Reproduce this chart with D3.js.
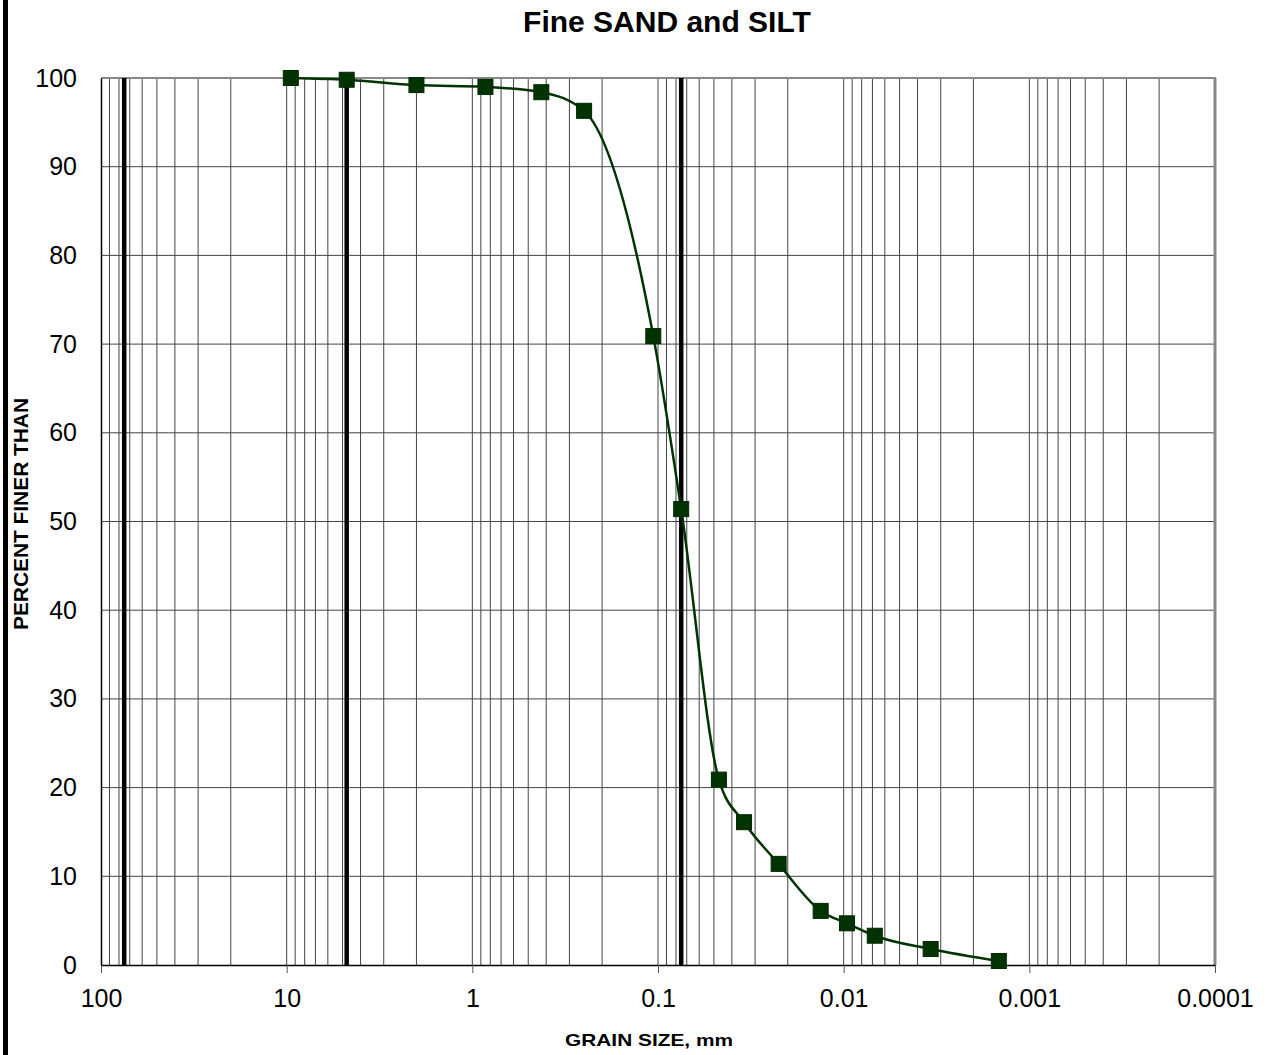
<!DOCTYPE html>
<html>
<head>
<meta charset="utf-8">
<script src="https://cdn.jsdelivr.net/npm/d3@7"></script>
<style>
  body { margin: 0; background: #fff; }
  svg { display: block; font-family: Arial, "Liberation Sans", sans-serif; }
</style>
</head>
<body>
<svg width="1268" height="1055"></svg>
<script>
// grain size (mm) and percent finer
var grainSize = [9.5, 4.75, 2.0, 0.85, 0.425, 0.25, 0.106, 0.075, 0.047, 0.0344, 0.0224, 0.0133, 0.0096, 0.0068, 0.0034, 0.00146];
var percentFiner = [100, 99.8, 99.2, 99.0, 98.4, 96.3, 70.9, 51.4, 20.9, 16.1, 11.4, 6.1, 4.7, 3.3, 1.8, 0.45];
var sieveLines = [75, 4.75, 0.075];
var xTicks = [100, 10, 1, 0.1, 0.01, 0.001, 0.0001];
var yTicks = [0, 10, 20, 30, 40, 50, 60, 70, 80, 90, 100];

var svg = d3.select("svg"),
    plotL = 101, plotR = 1215, plotT = 78, plotB = 965;

var x = d3.scaleLog().domain([100, 0.0001]).range([plotL, plotR]);
var y = d3.scaleLinear().domain([0, 100]).range([plotB, plotT]);

var data = grainSize.map(function(d, i) { return {size: d, pct: percentFiner[i]}; });

// outer frame bar on the left
svg.append("rect").attr("x", 3).attr("y", 0).attr("width", 5).attr("height", 1055).attr("fill", "#000");

// minor + decade vertical grid
var vgrid = [];
for (var e = -4; e < 2; e++) {
  for (var m = 1; m < 10; m++) vgrid.push(m * Math.pow(10, e));
}
svg.append("g").selectAll("line")
  .data(vgrid)
  .enter().append("line")
    .attr("x1", function(d) { return x(d); })
    .attr("x2", function(d) { return x(d); })
    .attr("y1", plotT).attr("y2", plotB)
    .attr("stroke", "#444").attr("stroke-width", 1);

// horizontal grid
svg.append("g").selectAll("line")
  .data(yTicks.slice(1, -1))
  .enter().append("line")
    .attr("x1", plotL).attr("x2", plotR)
    .attr("y1", function(d) { return y(d); })
    .attr("y2", function(d) { return y(d); })
    .attr("stroke", "#444").attr("stroke-width", 1);

// top and right border
svg.append("line").attr("x1", plotL).attr("x2", plotR + 1).attr("y1", plotT).attr("y2", plotT)
  .attr("stroke", "#888").attr("stroke-width", 2);
svg.append("line").attr("x1", plotR).attr("x2", plotR).attr("y1", plotT).attr("y2", plotB)
  .attr("stroke", "#888").attr("stroke-width", 3);

// heavy sieve lines
svg.append("g").selectAll("line")
  .data(sieveLines)
  .enter().append("line")
    .attr("x1", function(d) { return x(d); })
    .attr("x2", function(d) { return x(d); })
    .attr("y1", plotT).attr("y2", plotB)
    .attr("stroke", "#000").attr("stroke-width", 4.5);

// axes
var xAxis = svg.append("g")
    .attr("transform", "translate(0," + plotB + ")")
    .call(d3.axisBottom(x).tickValues(xTicks).tickFormat(function(d) { return String(d); })
      .tickSize(8).tickSizeOuter(0).tickPadding(16));
xAxis.select(".domain").attr("stroke", "#000").attr("stroke-width", 1.5);
xAxis.selectAll(".tick line").attr("stroke", "#555");
xAxis.selectAll("text").attr("font-size", 25).attr("fill", "#000").attr("font-family", "Arial, 'Liberation Sans', sans-serif");

var yAxis = svg.append("g")
    .attr("transform", "translate(" + plotL + ",0)")
    .call(d3.axisLeft(y).tickValues(yTicks).tickSize(0).tickSizeOuter(0).tickPadding(24));
yAxis.select(".domain").attr("stroke", "#000").attr("stroke-width", 1.5);
yAxis.selectAll("text").attr("font-size", 25).attr("fill", "#000").attr("font-family", "Arial, 'Liberation Sans', sans-serif");

// curve
var line = d3.line()
  .x(function(d) { return x(d.size); })
  .y(function(d) { return y(d.pct); })
  .curve(d3.curveMonotoneX);

svg.append("path")
  .datum(data)
  .attr("fill", "none")
  .attr("stroke", "#003300")
  .attr("stroke-width", 2.5)
  .attr("d", line);

svg.append("g").selectAll("rect")
  .data(data)
  .enter().append("rect")
    .attr("x", function(d) { return x(d.size) - 7.5; })
    .attr("y", function(d) { return y(d.pct) - 7.5; })
    .attr("width", 15).attr("height", 15)
    .attr("fill", "#003300")
    .attr("stroke", "#002800").attr("stroke-width", 1);

// titles
svg.append("text")
  .attr("x", 667).attr("y", 32)
  .attr("text-anchor", "middle")
  .attr("font-size", 30).attr("font-weight", "bold")
  .text("Fine SAND and SILT");

svg.append("text")
  .attr("transform", "translate(28,514) rotate(-90)")
  .attr("text-anchor", "middle")
  .attr("font-size", 20).attr("font-weight", "bold")
  .attr("textLength", 232).attr("lengthAdjust", "spacingAndGlyphs")
  .text("PERCENT FINER THAN");

svg.append("text")
  .attr("x", 649).attr("y", 1046)
  .attr("text-anchor", "middle")
  .attr("font-size", 17).attr("font-weight", "bold")
  .attr("textLength", 168).attr("lengthAdjust", "spacingAndGlyphs")
  .text("GRAIN SIZE, mm");
</script>
</body>
</html>
